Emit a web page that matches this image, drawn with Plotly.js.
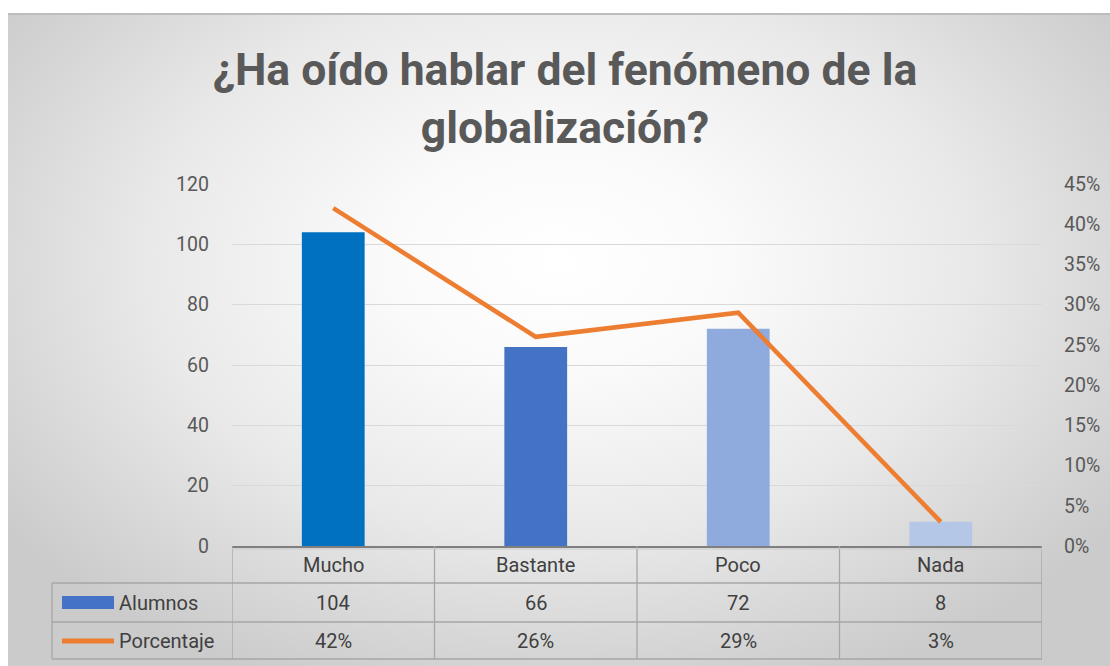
<!DOCTYPE html>
<html>
<head>
<meta charset="utf-8">
<script src="https://cdn.plot.ly/plotly-3.0.1.min.js"></script>
<style>
  html, body { margin:0; padding:0; width:1110px; height:666px; overflow:hidden; background:#ffffff; }
  #bg { position:absolute; left:8px; top:13px; width:1102px; height:653px;
        border-top:2px solid #bdbdbd; box-sizing:border-box;
        background: radial-gradient(ellipse 62% 70% at 50% 38%, #ffffff 0%, #fafafa 25%, #e9e9e9 60%, #d6d6d6 85%, #cbcbcb 100%); }
  #chart { position:absolute; left:0; top:0; width:1110px; height:666px; }
</style>
</head>
<body>
<div id="bg"></div>
<div id="chart"></div>
<script>
const categories = ["Mucho", "Bastante", "Poco", "Nada"];
const alumnos = [104, 66, 72, 8];
const porcentaje = [0.42, 0.26, 0.29, 0.03];
const alumnosLabels = ["104", "66", "72", "8"];
const porcentajeLabels = ["42%", "26%", "29%", "3%"];
const seriesNames = ["Alumnos", "Porcentaje"];
const barColors = ["#0070C0", "#4472C4", "#8FAADC", "#B4C7E7"];
const titleText = "¿Ha oído hablar del fenómeno de la<br>globalización?";

const FONT = "Roboto, Arial, sans-serif";
const W = 1110, H = 666;
const L = 232, R = 1042, T = 184, B = 546;
const pw = R - L, ph = B - T;
const py = p => (B - p) / ph;        // pixel y -> paper y
const px = p => (p - L) / pw;        // pixel x -> paper x

const rowTop = 583, row2 = 622, rowBot = 659, colLeft = 52;

const shapes = [];
const lineCol = "#a6a6a6";
for (let i = 0; i <= categories.length; i++) {
  shapes.push({type:"line", xref:"x", yref:"paper", x0:i-0.5, x1:i-0.5, y0:py(B), y1:py(rowBot),
    line:{color:lineCol, width:1.3}});
}
shapes.push({type:"line", xref:"paper", yref:"paper", x0:px(colLeft), x1:px(colLeft), y0:py(rowTop), y1:py(rowBot), line:{color:lineCol, width:1.3}});
[rowTop, row2, rowBot].forEach(y => shapes.push({type:"line", xref:"paper", yref:"paper", x0:px(colLeft), x1:1, y0:py(y), y1:py(y), line:{color:lineCol, width:1.3}}));
shapes.push({type:"line", xref:"paper", yref:"paper", x0:0, x1:1, y0:py(B+3), y1:py(B+3), line:{color:"#c8c8c8", width:1}});
shapes.push({type:"rect", xref:"paper", yref:"paper", x0:px(62), x1:px(114), y0:py(609), y1:py(596), fillcolor:"#4472C4", line:{width:0}});
shapes.push({type:"line", xref:"paper", yref:"paper", x0:px(62), x1:px(114), y0:py(641), y1:py(641), line:{color:"#ED7D31", width:5}});

const annotations = [];
const tf = {family:FONT, size:20, color:"#404040"};
categories.forEach((c, i) => {
  annotations.push({xref:"x", yref:"paper", x:i, y:py(565), text:c, showarrow:false, font:tf, xanchor:"center", yanchor:"middle"});
  annotations.push({xref:"x", yref:"paper", x:i, y:py(603), text:alumnosLabels[i], showarrow:false, font:tf, xanchor:"center", yanchor:"middle"});
  annotations.push({xref:"x", yref:"paper", x:i, y:py(641), text:porcentajeLabels[i], showarrow:false, font:tf, xanchor:"center", yanchor:"middle"});
});
annotations.push({xref:"paper", yref:"paper", x:px(117), y:py(603), text:seriesNames[0], showarrow:false, font:tf, xanchor:"left", yanchor:"middle"});
annotations.push({xref:"paper", yref:"paper", x:px(117), y:py(641), text:seriesNames[1], showarrow:false, font:tf, xanchor:"left", yanchor:"middle"});

const data = [
  {type:"bar", x:categories, y:alumnos, name:seriesNames[0], marker:{color:barColors}, width:0.31, hoverinfo:"skip"},
  {type:"scatter", mode:"lines", x:categories, y:porcentaje, name:seriesNames[1], yaxis:"y2",
   line:{color:"#ED7D31", width:4.5}, hoverinfo:"skip"}
];

const layout = {
  width:W, height:H,
  paper_bgcolor:"rgba(0,0,0,0)", plot_bgcolor:"rgba(0,0,0,0)",
  margin:{l:L, r:W-R, t:T, b:H-B, pad:0},
  showlegend:false,
  title:{text:titleText, x:0.509, xanchor:"center", y:1-85/H, yanchor:"middle",
         font:{family:FONT, size:44.5, color:"#595959", weight:"bold"}},
  xaxis:{type:"category", range:[-0.5, 3.5], showticklabels:false, ticks:"", showgrid:false,
         zeroline:false, showline:true, linecolor:"#7f7f7f", linewidth:1.5, fixedrange:true},
  yaxis:{range:[0,120], dtick:20, tick0:0, showgrid:true, gridcolor:"#d9d9d9", gridwidth:1,
         zeroline:false, showline:false, ticks:"", ticklabelstandoff:22,
         tickfont:{family:FONT, size:19.5, color:"#595959"}},
  yaxis2:{range:[0,0.45], dtick:0.05, tick0:0, tickformat:".0%", overlaying:"y", side:"right",
          showgrid:false, zeroline:false, showline:false, ticks:"", ticklabelstandoff:21,
          tickfont:{family:FONT, size:19.5, color:"#595959"}},
  shapes:shapes, annotations:annotations
};

Plotly.newPlot("chart", data, layout, {staticPlot:true, displayModeBar:false});
</script>
</body>
</html>
